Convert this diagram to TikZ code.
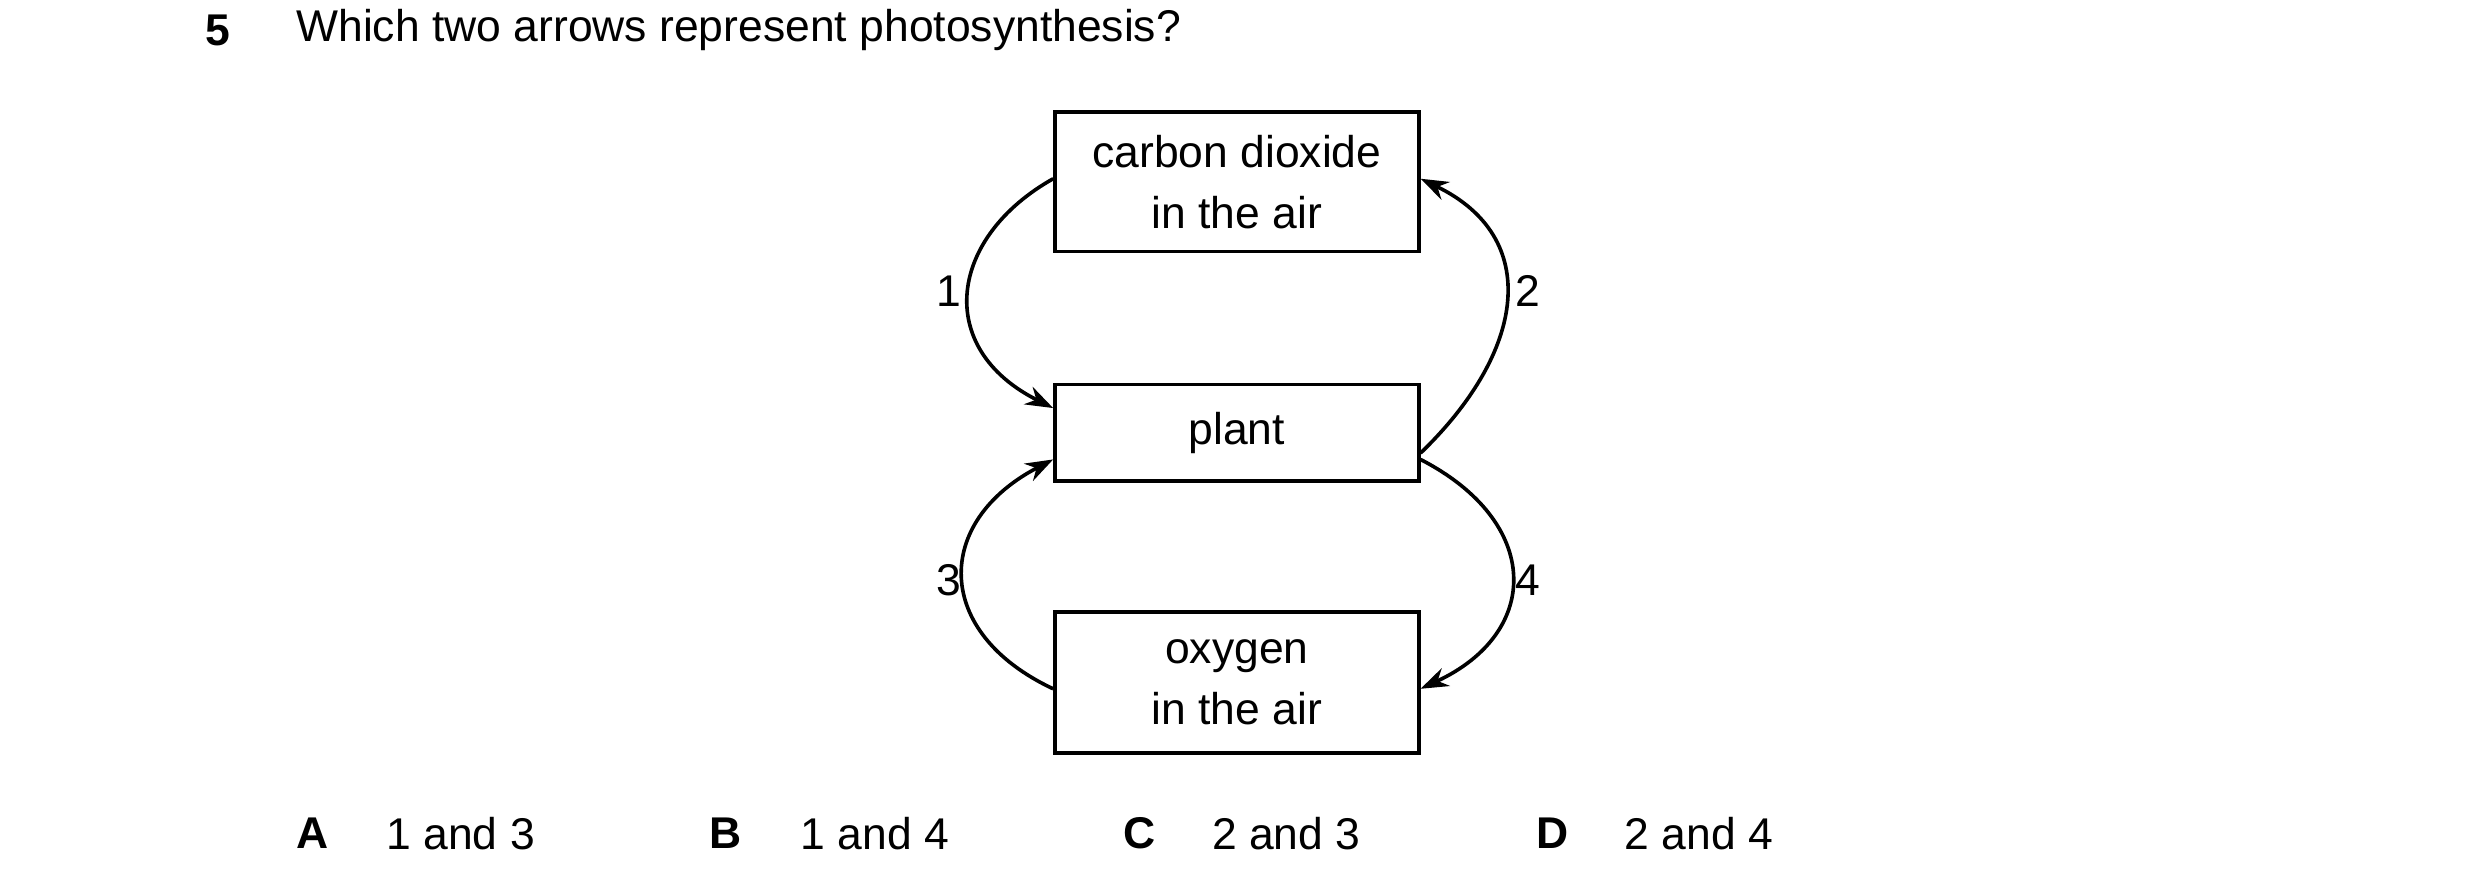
\documentclass[tikz,border=0pt]{standalone}
\usepackage{fontspec}
\setmainfont{Liberation Sans}
\usetikzlibrary{arrows.meta}
\begin{document}
\begin{tikzpicture}[x=0.02cm,y=-0.02cm,
  box/.style={draw,line width=1.3pt,minimum width=4.6cm,align=center,font=\fontsize{16}{20}\selectfont,inner sep=0pt},
  txt/.style={font=\fontsize{16}{20}\selectfont,inner sep=0pt},
  arr/.style={line width=1.3pt,-{Stealth[length=10pt,width=7pt]}}]
\useasboundingbox (0,0) rectangle (1568,562.7);
\node[txt,font=\fontsize{16}{20}\selectfont\bfseries] (q) at (138,19) {5};
\node[txt,anchor=west] (qt) at (187,19) {Which two arrows represent photosynthesis?};
\node[box,minimum height=1.76cm] (top) at (782,115) {carbon dioxide\\[2pt]in the air};
\node[box,minimum height=1.22cm] (plant) at (782,273.5) {plant};
\node[box,minimum height=1.78cm] (bot) at (782,431.5) {oxygen\\[2pt]in the air};
\draw[arr] ([yshift=0.04cm]top.west) .. controls (600,150) and (590,220) .. ([yshift=0.31cm]plant.west);
\draw[arr] ([yshift=-0.26cm]plant.east) .. controls (965,222) and (975,150) .. ([yshift=0.04cm]top.east);
\draw[arr] ([yshift=-0.08cm]bot.west) .. controls (590,400) and (590,330) .. ([yshift=-0.34cm]plant.west);
\draw[arr] ([yshift=-0.34cm]plant.east) .. controls (975,330) and (975,400) .. ([yshift=-0.08cm]bot.east);
\node[txt] (l1) at (600,184) {1};
\node[txt] (l2) at (966,184) {2};
\node[txt] (l3) at (600,367) {3};
\node[txt] (l4) at (966,367) {4};
\node[txt,anchor=west,font=\fontsize{16}{20}\selectfont\bfseries] (a) at (187,527) {A};
\node[txt,anchor=west] (at) at (244,527) {1 and 3};
\node[txt,anchor=west,font=\fontsize{16}{20}\selectfont\bfseries] (b) at (448,527) {B};
\node[txt,anchor=west] (bt) at (506,527) {1 and 4};
\node[txt,anchor=west,font=\fontsize{16}{20}\selectfont\bfseries] (c) at (710,527) {C};
\node[txt,anchor=west] (ct) at (766,527) {2 and 3};
\node[txt,anchor=west,font=\fontsize{16}{20}\selectfont\bfseries] (d) at (971,527) {D};
\node[txt,anchor=west] (dt) at (1027,527) {2 and 4};
\end{tikzpicture}
\end{document}
